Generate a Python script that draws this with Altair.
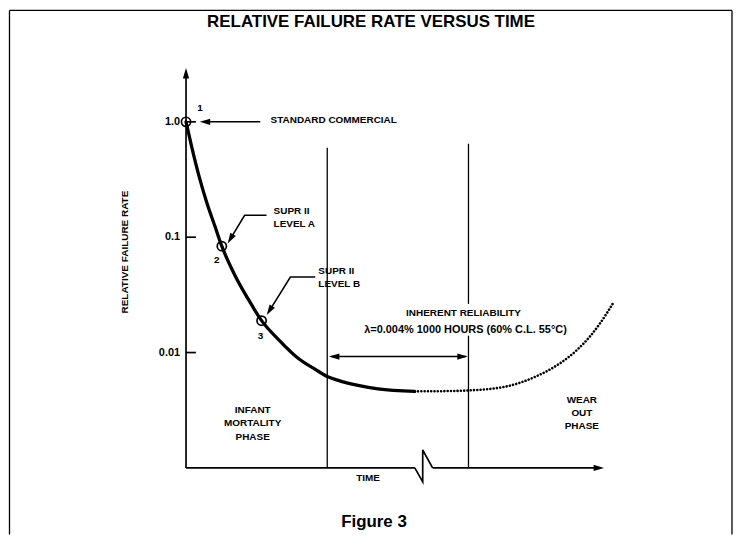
import altair as alt
import pandas as pd

FONT = "Liberation Sans, Arial, Helvetica, sans-serif"

# ---------------- data (time in phase units, relative failure rate) ----------------
# solid part of the failure-rate curve (infant mortality -> useful life)
curve_t = [0.0, 0.0423, 0.0915, 0.1479, 0.2042, 0.2535, 0.3521, 0.4437, 0.5352, 0.6549,
           0.7958, 0.9155, 1.0, 1.0775, 1.2183, 1.3592, 1.6197]
curve_r = [1.0, 0.592, 0.340, 0.198, 0.1249, 0.0836, 0.0452, 0.0286, 0.0189, 0.01295,
           0.00888, 0.00714, 0.00621, 0.00574, 0.00519, 0.00484, 0.00461]
# dotted continuation (wear out)
wear_t = [1.6197, 1.8239, 2.007, 2.2535, 2.4859, 2.6408, 2.7676, 2.8592, 2.9296, 3.0211]
wear_r = [0.00461, 0.00463, 0.0047, 0.00504, 0.00627, 0.00796, 0.01051, 0.01374,
          0.01778, 0.02645]
# marked screening levels
marked_t = [0.0, 0.2535, 0.5352]
marked_r = [1.0, 0.0836, 0.0189]
# y ticks
tick_r = [1.0, 0.1, 0.01]
tick_labels = ["1.0", "0.1", "0.01"]
# phase boundaries
phase_t = [1.0, 2.0]
axis_r0 = 0.001       # time axis level
axis_top = 2.64       # top of rate axis
axis_end = 2.90       # end of time axis
brk_t = [1.62, 1.676, 1.676, 1.746]
brk_r = [0.001, 0.000757, 0.00143, 0.001]

# annotation texts
big_text = ["RELATIVE FAILURE RATE VERSUS TIME", "Figure 3"]
big_t = [1.310, 1.331]
big_r = [7.28, 3.42e-4]

ann_text = ["1", "2", "3", "INHERENT RELIABILITY",
            "INFANT", "MORTALITY", "PHASE", "WEAR", "OUT", "PHASE", "TIME"]
ann_t = [0.099, 0.218, 0.528, 1.965, 0.472, 0.472, 0.472, 2.803, 2.803, 2.803, 1.289]
ann_r = [1.32, 0.0633, 0.0140, 0.0221, 0.00316, 0.00244, 0.00185,
         0.00386, 0.00298, 0.00230, 0.00082]

lambda_text = ["λ=0.004% 1000 HOURS (60% C.L. 55°C)"]
lambda_t = [1.979]
lambda_r = [0.0158]

left_text = ["STANDARD COMMERCIAL", "SUPR II", "LEVEL A", "SUPR II", "LEVEL B"]
left_t = [0.599, 0.620, 0.620, 0.937, 0.937]
left_r = [1.04, 0.1675, 0.1294, 0.0509, 0.0393]

ytitle = "RELATIVE FAILURE RATE"

# ---------------- scales ----------------
T_MIN, T_MAX = -1.2606, 3.8732
R_MIN, R_MAX = 10 ** -3.5776, 10 ** 0.9741
W, H = 729, 528

xs = alt.Scale(domain=[T_MIN, T_MAX], nice=False, zero=False)
ys = alt.Scale(type="log", domain=[R_MIN, R_MAX], nice=False)
X = alt.X("t:Q", scale=xs, axis=None)
Y = alt.Y("r:Q", scale=ys, axis=None)


def seg_df(segs):
    rows = []
    for i, (ts, rs) in enumerate(segs):
        for j, (t, r) in enumerate(zip(ts, rs)):
            rows.append(dict(seg=i, o=j, t=t, r=r))
    return pd.DataFrame(rows)


def line_layer(segs, width, dash=None, interp="linear", cap="butt"):
    kw = dict(color="black", strokeWidth=width, interpolate=interp, clip=False,
              strokeCap=cap, strokeJoin="miter")
    if dash:
        kw["strokeDash"] = dash
    return alt.Chart(seg_df(segs)).mark_line(**kw).encode(
        x=X, y=Y, detail="seg:N", order="o:Q")


def text_layer(texts, ts, rs, size, align="center", angle=0):
    df = pd.DataFrame(dict(label=texts, t=ts, r=rs))
    return alt.Chart(df).mark_text(
        font=FONT, fontSize=size, fontWeight="bold", align=align, baseline="middle",
        color="black", angle=angle).encode(x=X, y=Y, text="label:N")


# frame
frame = line_layer([
    ([-1.25, -1.25], [R_MIN, 9.24]),
    ([-1.25, 3.866], [9.24, 9.24]),
    ([3.866, 3.866], [9.24, R_MIN]),
], 1.3)

# axes
axes = line_layer([
    ([0.0, 0.0], [axis_r0, axis_top]),
    ([0.0, brk_t[0]], [axis_r0, axis_r0]),
    (brk_t, brk_r),
    ([brk_t[-1], axis_end], [axis_r0, axis_r0]),
] + [([0.0, 0.07], [r, r]) for r in tick_r], 1.7)

# phase boundaries (second one interrupted by the text)
phases = line_layer([
    ([phase_t[0], phase_t[0]], [0.597, axis_r0]),
    ([phase_t[1], phase_t[1]], [0.646, 0.0264]),
    ([phase_t[1], phase_t[1]], [0.014, axis_r0]),
], 1.3)

# failure-rate curve
curve = line_layer([(curve_t, curve_r)], 3.3, interp="monotone", cap="round")
wear = line_layer([(wear_t, wear_r)], 2.6, dash=[0.01, 3.3], interp="monotone", cap="round")

# annotation arrows / leaders
leaders = line_layer([
    ([0.134, 0.526], [1.0, 1.0]),
    ([1.03, 1.98], [0.00924, 0.00924]),
    ([0.570, 0.415, 0.314], [0.1548, 0.1548, 0.0966]),
    ([0.915, 0.739, 0.591], [0.0452, 0.0452, 0.0231]),
], 1.6)

heads_df = pd.DataFrame(dict(
    t=[0.0, axis_end + 0.023, 0.134, 1.049, 1.958, 0.314, 0.591],
    r=[axis_top, axis_r0, 1.0, 0.00924, 0.00924, 0.0966, 0.0231],
    a=[0, 90, 270, 270, 90, 210.6, 212],
))
heads = alt.Chart(heads_df).mark_point(
    shape="M0,-1L0.6,1L-0.6,1Z", filled=True, size=110, color="black", opacity=1,
    strokeWidth=0).encode(x=X, y=Y, angle=alt.Angle("a:Q", scale=None))

circles = alt.Chart(pd.DataFrame(dict(t=marked_t, r=marked_r))).mark_point(
    shape="circle", filled=False, size=85, strokeWidth=1.7, color="black", opacity=1
).encode(x=X, y=Y)

texts = alt.layer(
    text_layer(big_text, big_t, big_r, 17),
    text_layer(ann_text, ann_t, ann_r, 10),
    text_layer(lambda_text, lambda_t, lambda_r, 11),
    text_layer(left_text, left_t, left_r, 10, align="left"),
    text_layer(tick_labels, [-0.042] * 3, tick_r, 11, align="right"),
    text_layer([ytitle], [-0.430], [0.0743], 10, angle=270),
)

chart = alt.layer(frame, axes, phases, curve, wear, leaders, heads, circles, texts).properties(
    width=W, height=H, padding=0,
    autosize=alt.AutoSizeParams(type="none"),
    background="white",
).configure_view(stroke=None)

chart.save("out.html", embed_options={"renderer": "svg", "actions": False})
